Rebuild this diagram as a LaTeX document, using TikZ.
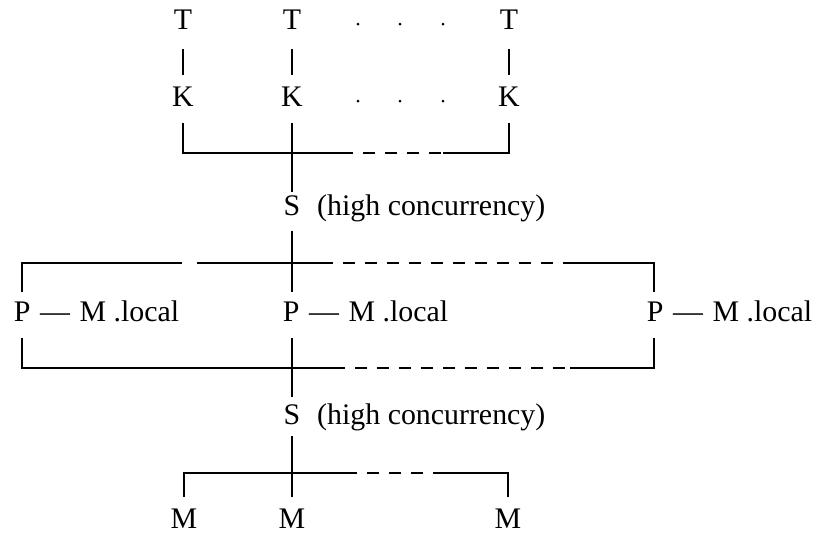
\documentclass[tikz,border=0pt]{standalone}
\usepackage{fontspec}
\setmainfont{Liberation Serif}
\usetikzlibrary{positioning}

\begin{document}
\begin{tikzpicture}[x=0.1cm,y=0.1cm,line width=0.55pt]
    \tikzstyle{every node}+=[inner sep=0pt, font=\fontsize{8.5}{10}\selectfont]
    \tikzstyle{dashline}=[dash pattern=on 1.2mm off 1mm, dash phase=1.2mm]
    \useasboundingbox (0,0) rectangle (81.8,-53.6);
    % terminals and kernels
    \node (T1) at (18.3,-2.0) {T};
    \node (T2) at (29.2,-2.0) {T};
    \node (T3) at (50.9,-2.0) {T};
    \node (K1) at (18.3,-9.7) {K};
    \node (K2) at (29.2,-9.7) {K};
    \node (K3) at (50.9,-9.7) {K};
    \foreach \x in {35.8,40.0,44.3}
    {
        \fill [black] (\x,-2.4) circle (0.15);
        \fill [black] (\x,-10.1) circle (0.15);
    }
    \foreach \i in {1,2,3}
        \draw [black, shorten <=1.8mm, shorten >=1.1mm] (T\i) -- (K\i);
    % first switch
    \coordinate (kd1) at (35.3,-15.3);
    \coordinate (kd2) at (44.3,-15.3);
    \draw [black, shorten <=1.5mm] (K1) |- (kd1);
    \draw [black, dashline] (kd1) -- (kd2);
    \draw [black, shorten >=1.5mm] (kd2) -| (K3);
    \node (S1) at (29.2,-20.6) {S};
    \node [right=1.5mm of S1.base east, anchor=base west] (hc1) {(high concurrency)};
    \draw [black, shorten <=1.5mm, shorten >=0.3mm] (K2) -- (S1);
    % processor - memory pairs
    \node [anchor=base west] (P1) at (1.3,-32.1) {P\kern0.6pt{} — \kern0.6pt M .local};
    \node [anchor=base west] (P2) at (28.2,-32.1) {P\kern0.6pt{} — \kern0.6pt M .local};
    \node [anchor=base west] (P3) at (64.6,-32.1) {P\kern0.6pt{} — \kern0.6pt M .local};
    \coordinate (pa) at (2.2,-29.2);
    \coordinate (pb) at (65.4,-29.2);
    \coordinate (pt1) at (18.2,-26.3);
    \coordinate (pt2) at (19.7,-26.3);
    \coordinate (pt3) at (33.3,-26.3);
    \coordinate (pt4) at (57.0,-26.3);
    \draw [black] (pa) |- (pt1);
    \draw [black] (pt2) -- (pt3);
    \draw [black, dashline] (pt3) -- (pt4);
    \draw [black] (pt4) -| (pb);
    \draw [black, shorten <=1.4mm] (S1) -- (S1 |- pa);
    \coordinate (qa) at (2.2,-33.8);
    \coordinate (qb) at (65.4,-33.8);
    \coordinate (qt1) at (34.5,-36.8);
    \coordinate (qt2) at (57.0,-36.8);
    \draw [black] (qa) |- (qt1);
    \draw [black, dashline] (qt1) -- (qt2);
    \draw [black] (qt2) -| (qb);
    % second switch
    \node (S2) at (29.2,-41.5) {S};
    \node [right=1.5mm of S2.base east, anchor=base west] (hc2) {(high concurrency)};
    \draw [black, shorten >=0.7mm] (S2 |- qa) -- (S2);
    % memories
    \node (M1) at (18.4,-51.9) {M};
    \node (M2) at (29.2,-51.9) {M};
    \node (M3) at (50.8,-51.9) {M};
    \coordinate (md1) at (35.7,-47.3);
    \coordinate (md2) at (44.3,-47.3);
    \draw [black, shorten >=1.1mm] (md1) -| (M1);
    \draw [black, dashline] (md1) -- (md2);
    \draw [black, shorten >=1.1mm] (md2) -| (M3);
    \draw [black, shorten <=1.0mm, shorten >=1.1mm] (S2) -- (M2);
\end{tikzpicture}
\end{document}
